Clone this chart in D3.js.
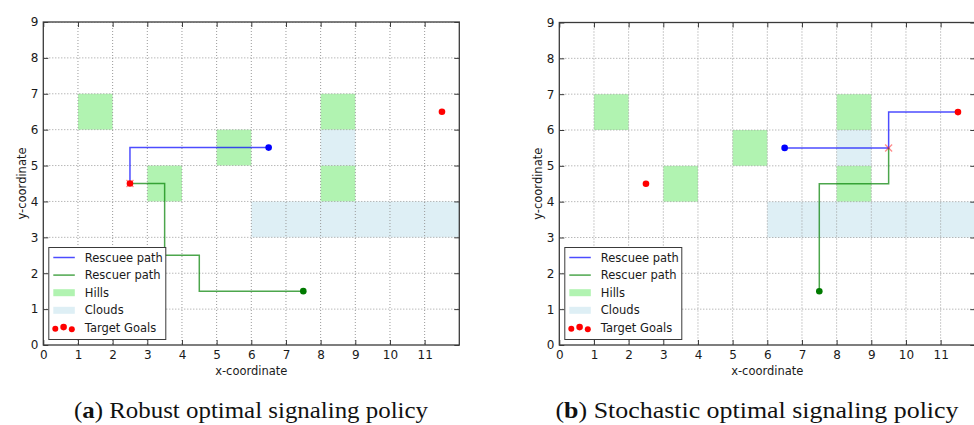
<!DOCTYPE html>
<html>
<head>
<meta charset="utf-8">
<script src="https://cdn.jsdelivr.net/npm/d3@7"></script>
<style>
  html, body { margin: 0; padding: 0; background: #fff; }
  svg { display: block; }
</style>
</head>
<body>
<svg id="chart" width="974" height="425"></svg>
<script>
// Grid world: terrain cells, goals and the two agents' paths
const xTicks = [0, 1, 2, 3, 4, 5, 6, 7, 8, 9, 10, 11];
const yTicks = [0, 1, 2, 3, 4, 5, 6, 7, 8, 9];
const xDomain = [0, 12];
const yDomain = [0, 9];

// Terrain rectangles: [x, y, width, height]
const hills = [[1, 6, 1, 1], [3, 4, 1, 1], [5, 5, 1, 1], [8, 6, 1, 1], [8, 4, 1, 1]];
const clouds = [[8, 5, 1, 1], [6, 3, 6, 1]];

const targetGoals = [[2.5, 4.5], [11.5, 6.5]];

// Panel (a): robust policy
const rescueePathA = [[6.5, 5.5], [2.5, 5.5], [2.5, 4.5]];
const rescuerPathA = [[7.5, 1.5], [4.5, 1.5], [4.5, 2.5], [3.5, 2.5], [3.5, 4.5], [2.5, 4.5]];
const meetingA = [2.5, 4.5];

// Panel (b): stochastic policy
const rescueePathB = [[6.5, 5.5], [9.5, 5.5], [9.5, 6.5], [11.5, 6.5]];
const rescuerPathB = [[7.5, 1.5], [7.5, 4.5], [9.5, 4.5], [9.5, 5.5]];
const meetingB = [9.5, 5.5];

const legendLabels = ["Rescuee path", "Rescuer path", "Hills", "Clouds", "Target Goals"];
const captions = [
  { tag: "a", text: " Robust optimal signaling policy" },
  { tag: "b", text: " Stochastic optimal signaling policy" }
];

const COLORS = {
  rescuee: "#0000ff",
  rescuer: "#008000",
  rescuerDot: "#007a00",
  hills: "#90ee90",
  clouds: "#add8e6",
  target: "#ff0000",
  grid: "#9a9a9a",
  spine: "#3a3a3a",
  text: "#1a1a1a"
};

const svg = d3.select("#chart");
const FONT = "'DejaVu Sans', sans-serif";

function drawPanel(opts) {
  const { left, right, top, bottom, rescuee, rescuer, meeting, caption, captionWidth } = opts;
  const x = d3.scaleLinear().domain(xDomain).range([left, right]);
  const y = d3.scaleLinear().domain(yDomain).range([bottom, top]);
  const g = svg.append("g");

  // clip to plotting area
  const clipId = "clip-" + caption.tag;
  svg.append("clipPath").attr("id", clipId)
    .append("rect").attr("x", left).attr("y", top)
    .attr("width", right - left).attr("height", bottom - top);
  const plot = g.append("g").attr("clip-path", `url(#${clipId})`);

  // terrain
  plot.selectAll("rect.hill").data(hills).join("rect").attr("class", "hill")
    .attr("x", d => x(d[0])).attr("y", d => y(d[1] + d[3]))
    .attr("width", d => x(d[0] + d[2]) - x(d[0]))
    .attr("height", d => y(d[1]) - y(d[1] + d[3]))
    .attr("fill", COLORS.hills).attr("fill-opacity", 0.7);
  plot.selectAll("rect.cloud").data(clouds).join("rect").attr("class", "cloud")
    .attr("x", d => x(d[0])).attr("y", d => y(d[1] + d[3]))
    .attr("width", d => x(d[0] + d[2]) - x(d[0]))
    .attr("height", d => y(d[1]) - y(d[1] + d[3]))
    .attr("fill", COLORS.clouds).attr("fill-opacity", 0.4);

  // dotted grid
  plot.selectAll("line.gx").data(xTicks.slice(1)).join("line").attr("class", "gx")
    .attr("x1", d => x(d)).attr("x2", d => x(d)).attr("y1", top).attr("y2", bottom)
    .attr("stroke", COLORS.grid).attr("stroke-width", 1).attr("stroke-dasharray", "1,2");
  plot.selectAll("line.gy").data(yTicks.slice(1)).join("line").attr("class", "gy")
    .attr("y1", d => y(d)).attr("y2", d => y(d)).attr("x1", left).attr("x2", right)
    .attr("stroke", COLORS.grid).attr("stroke-width", 1).attr("stroke-dasharray", "1,2");

  // paths
  const line = d3.line().x(d => x(d[0])).y(d => y(d[1]));
  plot.append("path").datum(rescuer).attr("d", line)
    .attr("fill", "none").attr("stroke", COLORS.rescuer).attr("stroke-opacity", 0.7)
    .attr("stroke-width", 1.5);
  plot.append("path").datum(rescuee).attr("d", line)
    .attr("fill", "none").attr("stroke", COLORS.rescuee).attr("stroke-opacity", 0.7)
    .attr("stroke-width", 1.5);

  // meeting point marker
  const mx = x(meeting[0]), my = y(meeting[1]), ms = 3.5;
  plot.append("path")
    .attr("d", `M${mx - ms},${my - ms}L${mx + ms},${my + ms}M${mx - ms},${my + ms}L${mx + ms},${my - ms}`)
    .attr("stroke", COLORS.target).attr("stroke-opacity", 0.45).attr("stroke-width", 1.3);

  // start points
  plot.append("circle").attr("cx", x(rescuee[0][0])).attr("cy", y(rescuee[0][1]))
    .attr("r", 3.3).attr("fill", COLORS.rescuee);
  plot.append("circle").attr("cx", x(rescuer[0][0])).attr("cy", y(rescuer[0][1]))
    .attr("r", 3.3).attr("fill", COLORS.rescuerDot);

  // goals
  plot.selectAll("circle.goal").data(targetGoals).join("circle").attr("class", "goal")
    .attr("cx", d => x(d[0])).attr("cy", d => y(d[1]))
    .attr("r", 3.3).attr("fill", COLORS.target);

  // axes (ticks inward on all four sides)
  const tickLen = 5;
  const axB = d3.axisBottom(x).tickValues(xTicks).tickSizeInner(-tickLen).tickSizeOuter(0).tickPadding(5);
  const axL = d3.axisLeft(y).tickValues(yTicks).tickSizeInner(-tickLen).tickSizeOuter(0).tickPadding(5);
  const axT = d3.axisTop(x).tickValues(xTicks).tickSizeInner(-tickLen).tickSizeOuter(0).tickFormat("");
  const axR = d3.axisRight(y).tickValues(yTicks).tickSizeInner(-tickLen).tickSizeOuter(0).tickFormat("");

  const styleAxis = sel => {
    sel.select(".domain").remove();
    sel.selectAll(".tick line").attr("stroke", COLORS.spine).attr("stroke-width", 1);
    sel.selectAll(".tick text").attr("fill", COLORS.text)
      .style("font-family", FONT).style("font-size", "12px");
  };
  g.append("g").attr("transform", `translate(0,${bottom})`).call(axB).call(styleAxis);
  g.append("g").attr("transform", `translate(${left},0)`).call(axL).call(styleAxis);
  g.append("g").attr("transform", `translate(0,${top})`).call(axT).call(styleAxis);
  g.append("g").attr("transform", `translate(${right},0)`).call(axR).call(styleAxis);

  // spines
  g.append("rect").attr("x", left).attr("y", top)
    .attr("width", right - left).attr("height", bottom - top)
    .attr("fill", "none").attr("stroke", COLORS.spine).attr("stroke-width", 1.3);

  // axis labels
  g.append("text").attr("x", (left + right) / 2).attr("y", 375)
    .attr("text-anchor", "middle").attr("fill", COLORS.text)
    .style("font-family", FONT).style("font-size", "11.5px").text("x-coordinate");
  g.append("text")
    .attr("transform", `translate(${left - 17},${(top + bottom) / 2}) rotate(-90)`)
    .attr("text-anchor", "middle").attr("fill", COLORS.text)
    .style("font-family", FONT).style("font-size", "11.5px").text("y-coordinate");

  // legend
  const lg = g.append("g").attr("transform", `translate(${left + 5.5},${bottom - 97.5})`);
  lg.append("rect").attr("width", 117).attr("height", 92)
    .attr("fill", "#fff").attr("stroke", COLORS.spine).attr("stroke-width", 1);
  const rowY = i => 10 + i * 17.6;
  const hx0 = 4.5, hx1 = 26;
  lg.append("line").attr("x1", hx0).attr("x2", hx1).attr("y1", rowY(0)).attr("y2", rowY(0))
    .attr("stroke", COLORS.rescuee).attr("stroke-opacity", 0.7).attr("stroke-width", 1.5);
  lg.append("line").attr("x1", hx0).attr("x2", hx1).attr("y1", rowY(1)).attr("y2", rowY(1))
    .attr("stroke", COLORS.rescuer).attr("stroke-opacity", 0.7).attr("stroke-width", 1.5);
  lg.append("rect").attr("x", hx0).attr("y", rowY(2) - 3.5).attr("width", hx1 - hx0).attr("height", 7)
    .attr("fill", COLORS.hills).attr("fill-opacity", 0.7);
  lg.append("rect").attr("x", hx0).attr("y", rowY(3) - 3.5).attr("width", hx1 - hx0).attr("height", 7)
    .attr("fill", COLORS.clouds).attr("fill-opacity", 0.4);
  const scatterHandle = [[6.5, 0.8, 3], [14.8, -0.8, 3.3], [23, 1.3, 3]];
  lg.selectAll("circle.lgdot").data(scatterHandle).join("circle").attr("class", "lgdot")
    .attr("cx", d => d[0]).attr("cy", d => rowY(4) + d[1]).attr("r", d => d[2])
    .attr("fill", COLORS.target);
  lg.selectAll("text").data(legendLabels).join("text")
    .attr("x", 36).attr("y", (d, i) => rowY(i)).attr("dy", "0.36em")
    .attr("fill", COLORS.text).style("font-family", FONT).style("font-size", "11.5px")
    .text(d => d);

  // caption
  const cap = svg.append("text").attr("x", captionWidth.center).attr("y", 418)
    .attr("text-anchor", "middle").attr("fill", "#111")
    .style("font-family", "'Liberation Serif', serif").style("font-size", "24px");
  cap.append("tspan").text("(");
  cap.append("tspan").style("font-weight", "bold").text(caption.tag);
  cap.append("tspan").text(")" + caption.text);
  cap.attr("textLength", captionWidth.width).attr("lengthAdjust", "spacingAndGlyphs");
}

drawPanel({
  left: 43.3, right: 459.3, top: 22, bottom: 345,
  rescuee: rescueePathA, rescuer: rescuerPathA, meeting: meetingA,
  caption: captions[0], captionWidth: { center: 251, width: 354 }
});
drawPanel({
  left: 559.3, right: 975.3, top: 22.5, bottom: 345,
  rescuee: rescueePathB, rescuer: rescuerPathB, meeting: meetingB,
  caption: captions[1], captionWidth: { center: 757, width: 403 }
});
</script>
</body>
</html>
